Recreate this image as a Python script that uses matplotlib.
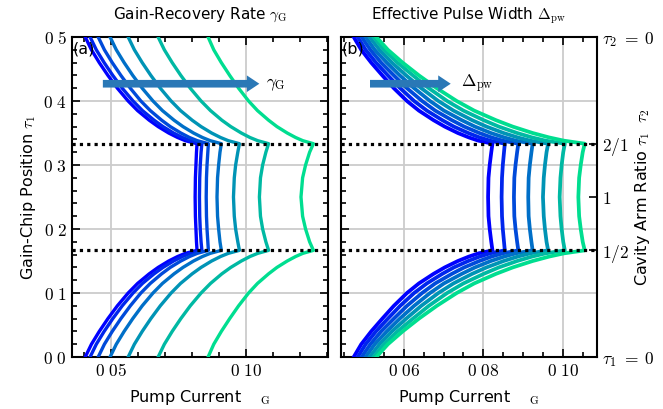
import numpy as np
import matplotlib
matplotlib.use("Agg")
import matplotlib.pyplot as plt
from matplotlib.ticker import MultipleLocator

plt.rcParams['mathtext.fontset'] = 'cm'
plt.rcParams['font.family'] = 'DejaVu Sans'

# gain-chip position samples (lower half, the curves are mirror symmetric about 0.25)
tau_half = [0, 0.02, 0.04, 0.06, 0.08, 0.10, 0.115, 0.13, 0.14, 0.15, 0.157, 0.162, 1/6,
            0.18, 0.20, 0.22, 0.25]

# panel (a): pump current for 7 values of gamma_G
pump_a = [
    [0.0405, 0.0428, 0.0457, 0.0489, 0.0524, 0.0564, 0.0599, 0.0642, 0.0675, 0.0714, 0.0747, 0.0776, 0.0819,
     0.0817, 0.0815, 0.0813, 0.0812],
    [0.0423, 0.0446, 0.0475, 0.0507, 0.0542, 0.0582, 0.0617, 0.0660, 0.0693, 0.0732, 0.0765, 0.0794, 0.0837,
     0.0834, 0.0831, 0.0829, 0.0828],
    [0.0453, 0.0476, 0.0505, 0.0537, 0.0572, 0.0611, 0.0646, 0.0688, 0.0720, 0.0759, 0.0791, 0.0820, 0.0861,
     0.0859, 0.0856, 0.0854, 0.0853],
    [0.0497, 0.0520, 0.0549, 0.0581, 0.0616, 0.0656, 0.0691, 0.0734, 0.0767, 0.0806, 0.0839, 0.0868, 0.0909,
     0.0904, 0.0899, 0.0895, 0.0893],
    [0.0564, 0.0587, 0.0616, 0.0648, 0.0683, 0.0723, 0.0758, 0.0801, 0.0834, 0.0873, 0.0906, 0.0935, 0.0976,
     0.0970, 0.0962, 0.0957, 0.0954],
    [0.0675, 0.0698, 0.0727, 0.0759, 0.0794, 0.0834, 0.0869, 0.0911, 0.0944, 0.0983, 0.1015, 0.1044, 0.1084,
     0.1074, 0.1062, 0.1054, 0.1050],
    [0.0860, 0.0881, 0.0909, 0.0940, 0.0973, 0.1010, 0.1043, 0.1084, 0.1115, 0.1153, 0.1184, 0.1211, 0.1250,
     0.1236, 0.1221, 0.1210, 0.1204],
]

# panel (b): pump current for 7 values of the pulse width
pump_b = [
    [0.0474, 0.0493, 0.0518, 0.0546, 0.0575, 0.0608, 0.0638, 0.0675, 0.0703, 0.0736, 0.0764, 0.0788, 0.0823,
     0.0820, 0.0816, 0.0813, 0.0812],
    [0.0484, 0.0504, 0.0530, 0.0560, 0.0591, 0.0626, 0.0658, 0.0697, 0.0726, 0.0762, 0.0791, 0.0817, 0.0854,
     0.0852, 0.0849, 0.0847, 0.0846],
    [0.0494, 0.0516, 0.0543, 0.0575, 0.0608, 0.0646, 0.0679, 0.0721, 0.0752, 0.0790, 0.0821, 0.0849, 0.0888,
     0.0885, 0.0881, 0.0878, 0.0877],
    [0.0504, 0.0527, 0.0557, 0.0590, 0.0626, 0.0666, 0.0701, 0.0746, 0.0779, 0.0819, 0.0853, 0.0882, 0.0924,
     0.0921, 0.0917, 0.0914, 0.0913],
    [0.0514, 0.0539, 0.0570, 0.0606, 0.0644, 0.0687, 0.0725, 0.0772, 0.0808, 0.0851, 0.0887, 0.0918, 0.0963,
     0.0959, 0.0955, 0.0952, 0.0950],
    [0.0524, 0.0550, 0.0584, 0.0623, 0.0663, 0.0709, 0.0750, 0.0801, 0.0839, 0.0885, 0.0923, 0.0957, 0.1005,
     0.1001, 0.0997, 0.0994, 0.0992],
    [0.0531, 0.0560, 0.0597, 0.0638, 0.0683, 0.0733, 0.0777, 0.0832, 0.0874, 0.0924, 0.0966, 0.1003, 0.1055,
     0.1050, 0.1045, 0.1041, 0.1039],
]

ratio_ticks = [0.5, 1/3, 0.25, 1/6, 0.0]
ratio_labels = [r'$\tau_2\;=\;0$', r'$2/1$', r'$1$', r'$1/2$', r'$\tau_1\;=\;0$']
xt_a = [0.05, 0.10]
xt_a_lab = [r'$0\ 05$', r'$0\ 10$']
xt_b = [0.06, 0.08, 0.10]
xt_b_lab = [r'$0\ 06$', r'$0\ 08$', r'$0\ 10$']
yt = [0, 0.1, 0.2, 0.3, 0.4, 0.5]
yt_lab = [r'$0\ 0$', r'$0\ 1$', r'$0\ 2$', r'$0\ 3$', r'$0\ 4$', r'$0\ 5$']


def full_curve(vals):
    t = np.array(tau_half)
    v = np.array(vals)
    tt = np.concatenate([t, 0.5 - t[-2::-1]])
    vv = np.concatenate([v, v[-2::-1]])
    return vv, tt


fig = plt.figure(figsize=(6.63, 4.09), dpi=100)
ax1 = fig.add_axes([0.1086, 0.1271, 0.3861, 0.7824])
ax2 = fig.add_axes([0.5143, 0.1271, 0.3862, 0.7824])

cols = plt.cm.winter(np.linspace(0, 0.87, 7))

for ax, data, lw in [(ax1, pump_a, 2.4), (ax2, pump_b, 2.7)]:
    for i, vals in enumerate(data):
        x, t = full_curve(vals)
        ax.plot(x, t, color=cols[i], lw=lw, zorder=3, solid_joinstyle='round')
    for h in [1/3, 1/6]:
        ax.axhline(h, color='k', lw=2.3, ls=(0, (1, 1.3)), zorder=4)
    ax.set_ylim(0, 0.5)
    ax.yaxis.set_minor_locator(MultipleLocator(0.02))
    ax.grid(True, which='major', color='#cccccc', lw=1.3, zorder=0)
    ax.tick_params(which='both', direction='in', top=True, right=True, width=1.2)
    ax.tick_params(which='major', length=6, labelsize=12.5)
    ax.tick_params(which='minor', length=3.5)
    for s in ax.spines.values():
        s.set_linewidth(1.5)
    ax.set_xlabel(r'Pump Current $\ \ \ _\mathrm{G}$', fontsize=11.5, labelpad=6)

ax1.set_xlim(0.0356, 0.1304)
ax1.set_xticks(xt_a, xt_a_lab)
ax1.xaxis.set_minor_locator(MultipleLocator(0.01))
ax1.set_yticks(yt, yt_lab)
ax1.set_ylabel(r'Gain-Chip Position $\tau_1$', fontsize=11.5)
ax1.set_title(r'Gain-Recovery Rate $\gamma_\mathrm{G}$', fontsize=11, pad=13)

ax2.set_xlim(0.0442, 0.1086)
ax2.set_xticks(xt_b, xt_b_lab)
ax2.xaxis.set_minor_locator(MultipleLocator(0.005))
ax2.set_yticks(yt)
ax2.set_yticklabels([])
ax2.set_title(r'Effective Pulse Width $\Delta_\mathrm{pw}$', fontsize=11, pad=13)

ax3 = ax2.twinx()
ax3.set_ylim(0, 0.5)
ax3.set_yticks(ratio_ticks, ratio_labels)
ax3.tick_params(direction='in', length=6, width=1.2, labelsize=12.5)
ax3.set_ylabel(r'Cavity Arm Ratio $\tau_1\ \ \tau_2$', fontsize=11.5)
ax3.yaxis.set_label_coords(1.14, 0.5)
for s in ax3.spines.values():
    s.set_visible(False)

arrow_col = '#2a78b6'
ax1.annotate('', xy=(0.1060, 0.427), xytext=(0.0460, 0.427),
             arrowprops=dict(arrowstyle='simple,head_width=1.2,head_length=0.9,tail_width=0.55',
                             color=arrow_col, lw=0), zorder=5)
ax1.text(0.1075, 0.427, r'$\gamma_\mathrm{G}$', fontsize=12.5, va='center', ha='left', zorder=5)
ax2.annotate('', xy=(0.0725, 0.427), xytext=(0.0508, 0.427),
             arrowprops=dict(arrowstyle='simple,head_width=1.2,head_length=0.9,tail_width=0.55',
                             color=arrow_col, lw=0), zorder=5)
ax2.text(0.0745, 0.427, r'$\Delta_\mathrm{pw}$', fontsize=12.5, va='center', ha='left', zorder=5)

ax1.text(0.002, 0.985, '(a)', transform=ax1.transAxes, fontsize=11.5, va='top', ha='left', zorder=6)
ax2.text(0.002, 0.985, '(b)', transform=ax2.transAxes, fontsize=11.5, va='top', ha='left', zorder=6)

fig.savefig('out.png', dpi=100)
